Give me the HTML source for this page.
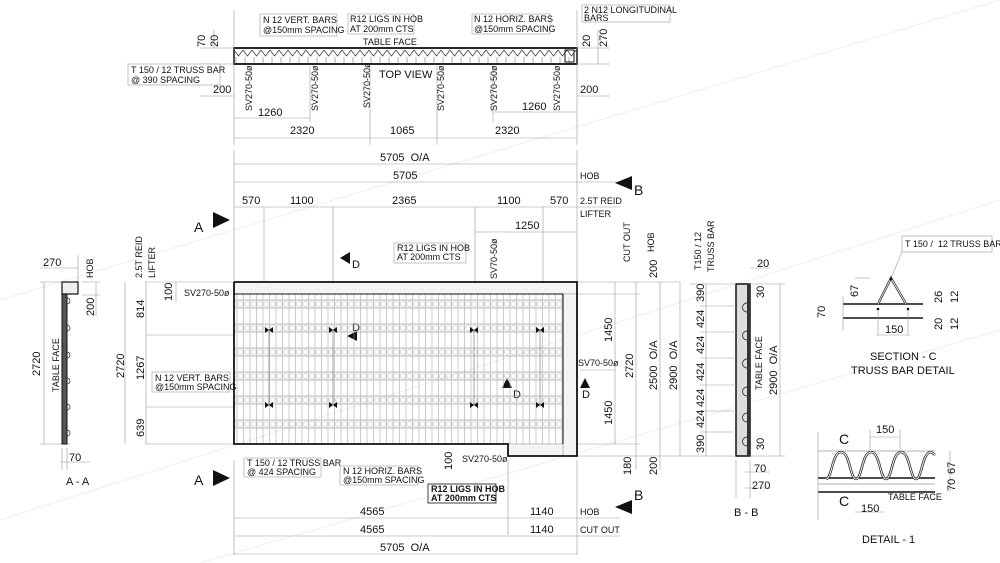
<!DOCTYPE html>
<html><head><meta charset="utf-8"><style>
html,body{margin:0;padding:0;background:#fff;}
svg{display:block;}
text{font-family:"Liberation Sans",sans-serif;fill:#111;}
.s{font-size:9px}.m{font-size:11px}.b{font-size:14px}
.d{stroke:#999;stroke-width:0.6;fill:none}
.k{stroke:#111;stroke-width:1.8;fill:none}
.lb{fill:#fff;stroke:#aaa;stroke-width:0.7}
</style></head><body>
<svg width="1000" height="563" viewBox="0 0 1000 563" xmlns="http://www.w3.org/2000/svg">
<defs>
<pattern id="g" x="234" y="294" width="6.5" height="24" patternUnits="userSpaceOnUse">
<line x1="3" y1="0" x2="3" y2="24" stroke="#999" stroke-width="0.5"/>
<line x1="0" y1="6" x2="6.5" y2="6" stroke="#888" stroke-width="0.5"/>
<line x1="0" y1="14" x2="6.5" y2="14" stroke="#888" stroke-width="0.5"/>
<path d="M0 6 L3.25 10 L6.5 6 M0 14 L3.25 10 L6.5 14" stroke="#aaa" stroke-width="0.5" fill="none"/>
</pattern>
<pattern id="t" x="234" y="48" width="9" height="16" patternUnits="userSpaceOnUse">
<path d="M0 2 L4.5 8 L9 2" stroke="#333" stroke-width="0.7" fill="none"/>
<line x1="2" y1="9" x2="2" y2="15" stroke="#666" stroke-width="0.5"/>
</pattern>
</defs>

<g stroke="#eee" stroke-width="1">
<line x1="0" y1="300" x2="1000" y2="0"/><line x1="0" y1="520" x2="1000" y2="200"/><line x1="200" y1="563" x2="1000" y2="330"/>
</g>

<!-- TOP VIEW -->
<rect x="234" y="48" width="343" height="16" fill="url(#t)"/>
<rect x="234" y="48" width="343" height="16" class="k" stroke-width="1.5"/>
<rect x="565" y="50" width="9" height="12" fill="none" stroke="#111"/>
<g class="d">
<line x1="234" y1="10" x2="234" y2="145"/><line x1="577" y1="10" x2="577" y2="145"/>
<line x1="310" y1="66" x2="310" y2="122"/><line x1="370" y1="66" x2="370" y2="145"/><line x1="437" y1="66" x2="437" y2="145"/><line x1="493" y1="66" x2="493" y2="122"/>
<line x1="234" y1="118" x2="310" y2="118"/><line x1="493" y1="112" x2="577" y2="112"/>
<line x1="234" y1="138" x2="577" y2="138"/>
<line x1="200" y1="48" x2="234" y2="48"/><line x1="200" y1="64" x2="234" y2="64"/>
<line x1="577" y1="48" x2="610" y2="48"/><line x1="577" y1="64" x2="610" y2="64"/>
<line x1="214" y1="30" x2="214" y2="48"/><line x1="598" y1="30" x2="598" y2="64"/>
<line x1="200" y1="96" x2="234" y2="96"/><line x1="577" y1="96" x2="610" y2="96"/>
</g>
<text class="m" x="205" y="47" transform="rotate(-90 205 47)">70</text>
<text class="m" x="218" y="47" transform="rotate(-90 218 47)">20</text>
<text class="m" x="590" y="47" transform="rotate(-90 590 47)">20</text>
<text class="m" x="607" y="47" transform="rotate(-90 607 47)">270</text>
<text class="m" x="213" y="93">200</text><text class="m" x="580" y="93">200</text>
<text class="m" x="258" y="116">1260</text><text class="m" x="522" y="110">1260</text>
<text class="m" x="290" y="134">2320</text><text class="m" x="390" y="134">1065</text><text class="m" x="495" y="134">2320</text>
<text class="m" x="379" y="78">TOP VIEW</text>
<g class="s">
<text x="252" y="111" transform="rotate(-90 252 111)">SV270-50ø</text>
<text x="318" y="111" transform="rotate(-90 318 111)">SV270-50ø</text>
<text x="370" y="108" transform="rotate(-90 370 108)">SV270-50ø</text>
<text x="444" y="111" transform="rotate(-90 444 111)">SV270-50ø</text>
<text x="497" y="111" transform="rotate(-90 497 111)">SV270-50ø</text>
<text x="560" y="111" transform="rotate(-90 560 111)">SV270-50ø</text>
</g>
<rect class="lb" x="260" y="14" width="77" height="22"/><text class="s" x="263" y="23">N 12 VERT. BARS</text><text class="s" x="263" y="33">@150mm SPACING</text>
<rect class="lb" x="348" y="14" width="66" height="20"/><text class="s" x="350" y="22">R12 LIGS IN HOB</text><text class="s" x="350" y="32">AT 200mm CTS</text>
<text class="s" x="363" y="45">TABLE FACE</text>
<rect class="lb" x="472" y="14" width="78" height="20"/><text class="s" x="474" y="22">N 12 HORIZ. BARS</text><text class="s" x="474" y="32">@150mm SPACING</text>
<rect class="lb" x="582" y="5" width="88" height="17"/><text class="s" x="584" y="13">2 N12 LONGITUDINAL</text><text class="s" x="584" y="21">BARS</text>
<rect class="lb" x="128" y="64" width="92" height="21"/><text class="s" x="131" y="73">T 150 / 12 TRUSS BAR</text><text class="s" x="131" y="83">@ 390 SPACING</text>

<!-- ELEVATION dims -->
<g class="d">
<line x1="234" y1="150" x2="234" y2="282"/><line x1="577" y1="150" x2="577" y2="282"/>
<line x1="234" y1="164" x2="577" y2="164"/><line x1="234" y1="182" x2="620" y2="182"/>
<line x1="234" y1="207" x2="620" y2="207"/>
<line x1="264" y1="207" x2="264" y2="282"/><line x1="333" y1="207" x2="333" y2="282"/><line x1="475" y1="207" x2="475" y2="282"/><line x1="543" y1="207" x2="543" y2="282"/>
<line x1="475" y1="232" x2="577" y2="232"/>
<line x1="234" y1="460" x2="234" y2="555"/><line x1="508" y1="460" x2="508" y2="535"/><line x1="577" y1="460" x2="577" y2="555"/>
<line x1="234" y1="518" x2="620" y2="518"/><line x1="234" y1="536" x2="620" y2="536"/><line x1="234" y1="554" x2="577" y2="554"/>
<line x1="577" y1="282" x2="680" y2="282"/><line x1="577" y1="444" x2="640" y2="444"/><line x1="577" y1="456" x2="690" y2="456"/>
<line x1="615" y1="282" x2="615" y2="444"/><line x1="615" y1="370" x2="580" y2="370"/>
<line x1="636" y1="282" x2="636" y2="470"/><line x1="660" y1="282" x2="660" y2="470"/><line x1="680" y1="282" x2="680" y2="456"/>
<line x1="577" y1="294" x2="640" y2="294"/>
<line x1="145" y1="282" x2="234" y2="282"/><line x1="145" y1="444" x2="234" y2="444"/>
<line x1="125" y1="282" x2="125" y2="444"/><line x1="146" y1="282" x2="146" y2="444"/>
<line x1="146" y1="335" x2="234" y2="335"/><line x1="146" y1="407" x2="234" y2="407"/>
<line x1="176" y1="282" x2="176" y2="302"/>
</g>
<text class="m" x="380" y="161">5705&#160;&#160;O/A</text>
<text class="m" x="393" y="179">5705</text><text class="s" x="580" y="179">HOB</text>
<text class="m" x="242" y="204">570</text><text class="m" x="290" y="204">1100</text><text class="m" x="392" y="204">2365</text><text class="m" x="497" y="204">1100</text><text class="m" x="550" y="204">570</text>
<text class="s" x="580" y="204">2.5T REID</text><text class="s" x="580" y="217">LIFTER</text>
<text class="m" x="515" y="229">1250</text>
<text class="m" x="360" y="515">4565</text><text class="m" x="530" y="515">1140</text><text class="s" x="580" y="515">HOB</text>
<text class="m" x="360" y="533">4565</text><text class="m" x="530" y="533">1140</text><text class="s" x="580" y="533">CUT OUT</text>
<text class="m" x="380" y="551">5705&#160;&#160;O/A</text>

<g fill="#111">
<polygon points="213,212 230,220 213,228"/><polygon points="213,470 230,478 213,486"/>
<polygon points="632,176 615,183 632,190"/><polygon points="632,500 615,507 632,514"/>
<polygon points="350,252 340,258 350,264"/><polygon points="357,331 347,336 357,341"/>
<polygon points="507,378 512,388 502,388"/><polygon points="585,378 590,388 580,388"/>
</g>
<text class="b" x="194" y="232">A</text><text class="b" x="194" y="485">A</text>
<text class="b" x="634" y="195">B</text><text class="b" x="634" y="500">B</text>
<text class="m" x="352" y="268">D</text><text class="m" x="352" y="331">D</text><text class="m" x="513" y="398">D</text><text class="m" x="582" y="398">D</text>

<!-- main panel -->
<rect x="234" y="294" width="329" height="150" fill="url(#g)"/>
<rect x="234" y="282" width="343" height="12" fill="#f4f4f4" stroke="#999" stroke-width="0.5"/>
<rect x="563" y="294" width="14" height="162" fill="#f4f4f4" stroke="#999" stroke-width="0.5"/>
<rect x="508" y="444" width="55" height="12" fill="#f4f4f4" stroke="#999" stroke-width="0.5"/>
<polyline class="k" points="234,282 577,282 577,456 508,456 508,444 234,444 234,282"/>
<polyline points="234,294 563,294 563,444" stroke="#111" stroke-width="1" fill="none"/>
<g stroke="#666" stroke-width="0.6">
<line x1="269" y1="330" x2="269" y2="405"/><line x1="333" y1="330" x2="333" y2="405"/><line x1="474" y1="330" x2="474" y2="405"/><line x1="540" y1="330" x2="540" y2="405"/>
</g>
<g fill="#111">
<path d="M265 327 L273 333 L273 327 L265 333 Z"/><path d="M329 327 L337 333 L337 327 L329 333 Z"/><path d="M470 327 L478 333 L478 327 L470 333 Z"/><path d="M536 327 L544 333 L544 327 L536 333 Z"/>
<path d="M265 402 L273 408 L273 402 L265 408 Z"/><path d="M329 402 L337 408 L337 402 L329 408 Z"/><path d="M470 402 L478 408 L478 402 L470 408 Z"/><path d="M536 402 L544 408 L544 402 L536 408 Z"/>
</g>
<text class="s" x="184" y="296">SV270-50ø</text>
<text class="m" x="172" y="301" transform="rotate(-90 172 301)">100</text>
<text class="m" x="144" y="318" transform="rotate(-90 144 318)">814</text>
<text class="m" x="144" y="380" transform="rotate(-90 144 380)">1267</text>
<text class="m" x="144" y="437" transform="rotate(-90 144 437)">639</text>
<text class="m" x="124" y="378" transform="rotate(-90 124 378)">2720</text>
<text class="s" x="142" y="278" transform="rotate(-90 142 278)">2.5T REID</text>
<text class="s" x="155" y="278" transform="rotate(-90 155 278)">LIFTER</text>
<rect class="lb" x="152" y="372" width="78" height="20"/><text class="s" x="155" y="381">N 12 VERT. BARS</text><text class="s" x="155" y="390">@150mm SPACING</text>
<rect class="lb" x="394" y="243" width="72" height="20"/><text class="s" x="397" y="251">R12 LIGS IN HOB</text><text class="s" x="397" y="260">AT 200mm CTS</text>
<text class="s" x="497" y="279" transform="rotate(-90 497 279)">SV70-50ø</text>
<text class="s" x="578" y="366">SV70-50ø</text>
<text class="s" x="462" y="462">SV270-50ø</text>
<text class="m" x="452" y="470" transform="rotate(-90 452 470)">100</text>
<rect class="lb" x="244" y="458" width="77" height="19"/><text class="s" x="247" y="466">T 150 / 12 TRUSS BAR</text><text class="s" x="247" y="475">@ 424 SPACING</text>
<rect class="lb" x="340" y="466" width="78" height="19"/><text class="s" x="343" y="474">N 12 HORIZ. BARS</text><text class="s" x="343" y="483">@150mm SPACING</text>
<rect x="428" y="484" width="68" height="19" fill="#fff" stroke="#111" stroke-width="0.8"/><text class="s" x="431" y="492" font-weight="bold">R12 LIGS IN HOB</text><text class="s" x="431" y="501" font-weight="bold">AT 200mm CTS</text>

<text class="m" x="612" y="342" transform="rotate(-90 612 342)">1450</text>
<text class="m" x="612" y="425" transform="rotate(-90 612 425)">1450</text>
<text class="m" x="633" y="378" transform="rotate(-90 633 378)">2720</text>
<text class="m" x="657" y="390" transform="rotate(-90 657 390)">2500&#160;&#160;O/A</text>
<text class="m" x="677" y="390" transform="rotate(-90 677 390)">2900&#160;&#160;O/A</text>
<text class="s" x="630" y="262" transform="rotate(-90 630 262)">CUT OUT</text>
<text class="s" x="654" y="252" transform="rotate(-90 654 252)">HOB</text>
<text class="m" x="657" y="278" transform="rotate(-90 657 278)">200</text>
<text class="m" x="631" y="475" transform="rotate(-90 631 475)">180</text>
<text class="m" x="657" y="475" transform="rotate(-90 657 475)">200</text>

<!-- A-A -->
<g class="d">
<line x1="40" y1="282" x2="70" y2="282"/><line x1="40" y1="444" x2="70" y2="444"/><line x1="44" y1="282" x2="44" y2="444"/>
<line x1="40" y1="268" x2="78" y2="268"/><line x1="78" y1="255" x2="78" y2="282"/><line x1="82" y1="282" x2="100" y2="282"/><line x1="82" y1="295" x2="100" y2="295"/><line x1="96" y1="282" x2="96" y2="316"/>
<line x1="62" y1="448" x2="62" y2="470"/><line x1="67" y1="448" x2="67" y2="470"/><line x1="60" y1="462" x2="90" y2="462"/>
</g>
<rect x="62" y="282" width="5" height="162" fill="#555" stroke="#111"/>
<rect x="62" y="282" width="16" height="12" fill="#eee" stroke="#111" stroke-width="1.2"/>
<g fill="none" stroke="#333" stroke-width="0.8">
<path d="M67 298 a3 3 0 0 1 0 6"/><path d="M67 325 a3 3 0 0 1 0 6"/><path d="M67 352 a3 3 0 0 1 0 6"/><path d="M67 378 a3 3 0 0 1 0 6"/><path d="M67 404 a3 3 0 0 1 0 6"/><path d="M67 430 a3 3 0 0 1 0 6"/>
</g>
<text class="m" x="43" y="266">270</text>
<text class="s" x="93" y="278" transform="rotate(-90 93 278)">HOB</text>
<text class="m" x="94" y="316" transform="rotate(-90 94 316)">200</text>
<text class="m" x="40" y="376" transform="rotate(-90 40 376)">2720</text>
<text class="s" x="59" y="392" transform="rotate(-90 59 392)">TABLE FACE</text>
<text class="m" x="69" y="461">70</text>
<text class="m" x="66" y="485">A - A</text>

<!-- B-B -->
<rect x="736" y="284" width="14" height="172" fill="#ddd" stroke="#111" stroke-width="1.5"/>
<rect x="747" y="284" width="3" height="172" fill="#333"/>
<g fill="none" stroke="#333" stroke-width="0.9">
<path d="M747 303 a4 4 0 0 0 0 9"/><path d="M747 331 a4 4 0 0 0 0 9"/><path d="M747 359 a4 4 0 0 0 0 9"/><path d="M747 387 a4 4 0 0 0 0 9"/><path d="M747 413 a4 4 0 0 0 0 9"/><path d="M747 437 a4 4 0 0 0 0 9"/>
</g>
<g class="d">
<line x1="690" y1="284" x2="736" y2="284"/><line x1="690" y1="456" x2="736" y2="456"/>
<line x1="706" y1="284" x2="706" y2="456"/><line x1="780" y1="284" x2="780" y2="456"/><line x1="750" y1="284" x2="785" y2="284"/><line x1="750" y1="456" x2="785" y2="456"/>
<line x1="700" y1="306" x2="736" y2="306"/><line x1="700" y1="332" x2="736" y2="332"/><line x1="700" y1="358" x2="736" y2="358"/><line x1="700" y1="385" x2="736" y2="385"/><line x1="700" y1="411" x2="736" y2="411"/><line x1="700" y1="432" x2="736" y2="432"/>
<line x1="736" y1="460" x2="736" y2="498"/><line x1="750" y1="460" x2="750" y2="498"/><line x1="745" y1="472" x2="770" y2="472"/><line x1="745" y1="488" x2="770" y2="488"/>
<line x1="750" y1="268" x2="770" y2="268"/>
</g>
<text class="s" x="701" y="270" transform="rotate(-90 701 270)">T150 / 12</text>
<text class="s" x="714" y="272" transform="rotate(-90 714 272)">TRUSS BAR</text>
<text class="m" x="757" y="267">20</text>
<g class="m">
<text x="704" y="302" transform="rotate(-90 704 302)">390</text>
<text x="704" y="328" transform="rotate(-90 704 328)">424</text>
<text x="704" y="354" transform="rotate(-90 704 354)">424</text>
<text x="704" y="381" transform="rotate(-90 704 381)">424</text>
<text x="704" y="407" transform="rotate(-90 704 407)">424</text>
<text x="704" y="428" transform="rotate(-90 704 428)">424</text>
<text x="704" y="453" transform="rotate(-90 704 453)">390</text>
<text x="764" y="298" transform="rotate(-90 764 298)">30</text>
<text x="764" y="450" transform="rotate(-90 764 450)">30</text>
<text x="777" y="395" transform="rotate(-90 777 395)">2900&#160;&#160;O/A</text>
</g>
<text class="s" x="762" y="390" transform="rotate(-90 762 390)">TABLE FACE</text>
<text class="m" x="754" y="472">70</text><text class="m" x="752" y="489">270</text>
<text class="m" x="734" y="516">B - B</text>

<!-- SECTION C -->
<rect class="lb" x="902" y="236" width="90" height="16"/><text class="s" x="905" y="247">T 150 /&#160;&#160;12 TRUSS BAR</text>
<line x1="902" y1="252" x2="891" y2="278" stroke="#999" stroke-width="0.6"/>
<line x1="843" y1="304" x2="923" y2="304" stroke="#111" stroke-width="1.6"/>
<line x1="843" y1="318" x2="923" y2="318" stroke="#111" stroke-width="1.6"/>
<polyline points="878,304 891,278 906,304" fill="none" stroke="#333" stroke-width="2.4"/>
<polyline points="878,304 891,278 906,304" fill="none" stroke="#fff" stroke-width="0.8"/>
<circle cx="891" cy="279" r="1.3" fill="#111"/><circle cx="878" cy="309" r="1.3" fill="#111"/><circle cx="908" cy="309" r="1.3" fill="#111"/>
<g class="d"><line x1="843" y1="296" x2="843" y2="330"/><line x1="878" y1="310" x2="878" y2="335"/><line x1="908" y1="310" x2="908" y2="335"/><line x1="876" y1="335" x2="910" y2="335"/><line x1="855" y1="278" x2="870" y2="278"/></g>
<text class="m" x="858" y="297" transform="rotate(-90 858 297)">67</text>
<text class="m" x="825" y="318" transform="rotate(-90 825 318)">70</text>
<text class="m" x="885" y="333">150</text>
<text class="m" x="942" y="303" transform="rotate(-90 942 303)">26</text>
<text class="m" x="958" y="303" transform="rotate(-90 958 303)">12</text>
<text class="m" x="942" y="330" transform="rotate(-90 942 330)">20</text>
<text class="m" x="958" y="330" transform="rotate(-90 958 330)">12</text>
<text class="m" x="870" y="360" font-size="12">SECTION - C</text>
<text class="m" x="851" y="374" font-size="12">TRUSS BAR DETAIL</text>

<!-- DETAIL 1 -->
<line x1="818" y1="451" x2="935" y2="451" stroke="#999" stroke-width="0.7"/>
<line x1="818" y1="478" x2="935" y2="478" stroke="#111" stroke-width="1.6"/>
<line x1="818" y1="484" x2="935" y2="484" stroke="#999" stroke-width="0.7"/>
<line x1="818" y1="492" x2="935" y2="492" stroke="#111" stroke-width="1.6"/>
<path d="M826 479 C832 479 832 452 841 452 C850 452 850 479 856 479 C862 479 862 452 871 452 C880 452 880 479 886 479 C892 479 892 452 901 452 C910 452 910 479 916 479 C922 479 922 452 931 452 L935 455" fill="none" stroke="#333" stroke-width="2.6"/>
<path d="M826 479 C832 479 832 452 841 452 C850 452 850 479 856 479 C862 479 862 452 871 452 C880 452 880 479 886 479 C892 479 892 452 901 452 C910 452 910 479 916 479 C922 479 922 452 931 452 L935 455" fill="none" stroke="#fff" stroke-width="0.9"/>
<g class="d"><line x1="870" y1="437" x2="900" y2="437"/><line x1="870" y1="430" x2="870" y2="450"/><line x1="900" y1="430" x2="900" y2="450"/><line x1="855" y1="512" x2="885" y2="512"/><line x1="950" y1="451" x2="950" y2="492"/><line x1="818" y1="432" x2="818" y2="520"/></g>
<text class="b" x="839" y="444" font-size="13">C</text><text class="b" x="839" y="506" font-size="13">C</text>
<text class="m" x="876" y="433">150</text><text class="m" x="861" y="512">150</text>
<text class="s" x="888" y="500">TABLE FACE</text>
<text class="m" x="955" y="474" transform="rotate(-90 955 474)">67</text>
<text class="m" x="955" y="491" transform="rotate(-90 955 491)">70</text>
<text class="m" x="862" y="543" font-size="12">DETAIL - 1</text>
</svg>
</body></html>
